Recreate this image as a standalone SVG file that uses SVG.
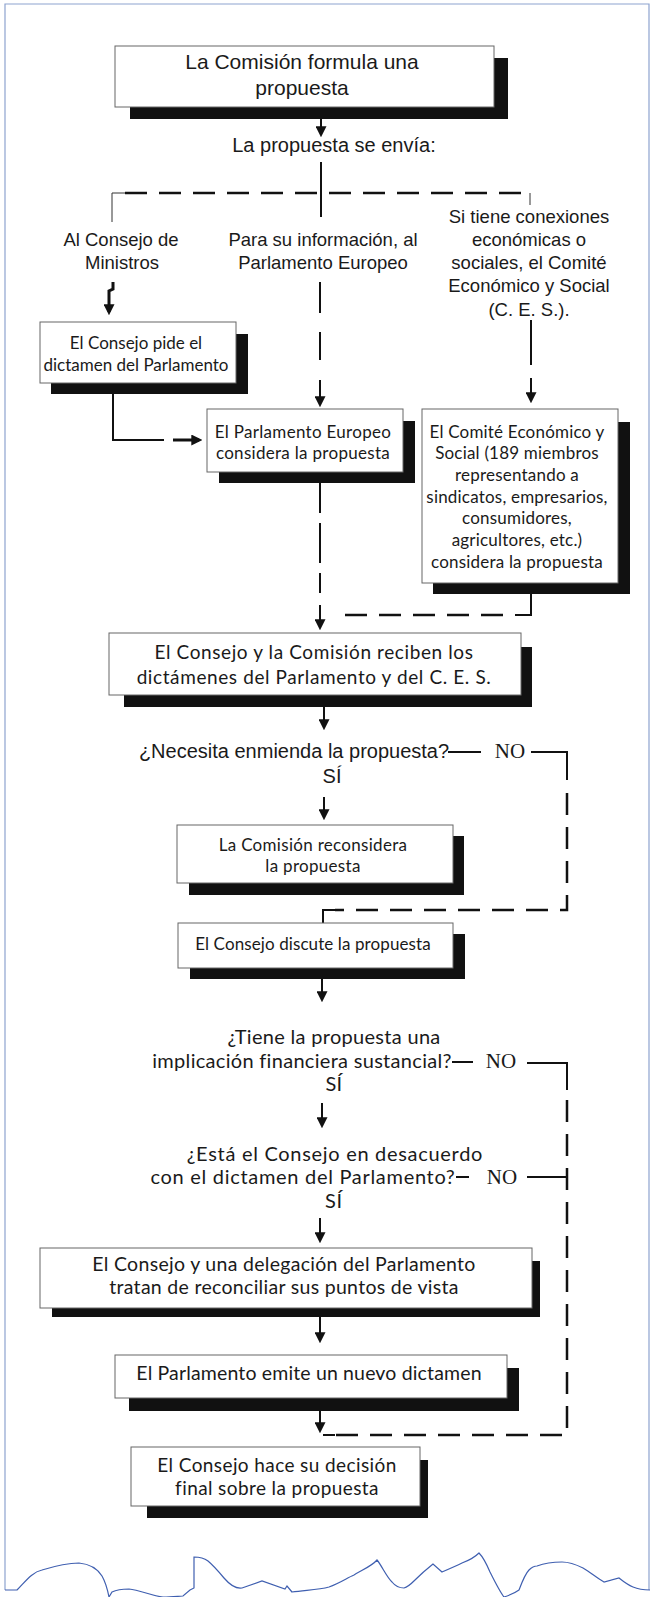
<svg xmlns="http://www.w3.org/2000/svg" width="652" height="1597" viewBox="0 0 652 1597">
<style>
.box{fill:#fff;stroke:#666;stroke-width:1}
.sh{fill:#111}
.t{font-family:Lato,"Noto Sans",sans-serif;fill:#1a1a1a;text-anchor:middle}
.s{font-family:"Liberation Sans",Arial,sans-serif;fill:#1a1a1a;text-anchor:middle}
.no{font-family:"Liberation Serif","Times New Roman",serif;fill:#1a1a1a;text-anchor:middle;font-size:21px}
.ln{stroke:#111;stroke-width:2;fill:none}
.th{stroke:#111;stroke-width:3;fill:none}
.dl{stroke:#111;stroke-width:2.5;fill:none;stroke-dasharray:22 12}
.tk{stroke:#333;stroke-width:1;fill:none}
.frame{stroke:#8ea3cf;stroke-width:1.2;fill:none}
.wave{stroke:#3f5fb0;stroke-width:1.2;fill:none}
</style>
<defs>
<marker id="ah" viewBox="0 0 10 10" refX="7" refY="5" markerWidth="11" markerHeight="11" markerUnits="userSpaceOnUse" orient="auto">
<path d="M0,0 L10,5 L0,10 z" fill="#111"/>
</marker>
</defs>
<rect width="652" height="1597" fill="#fff"/>
<g id="frame">
<path class="frame" d="M5,1590 V4 H649 V1590"/>
<path class="wave" d="M5,1590 L17,1590 C25,1582 32,1572 42,1570 C55,1566 66,1563 79,1563 C90,1564 97,1568 102,1576 C106,1583 108,1592 109,1597 L112,1592 C118,1589 124,1589 129,1589 C140,1590 152,1596 163,1597 C172,1597 180,1596 183,1596 L190,1590 L194,1588 L194,1557 C200,1557 204,1558 208,1561 C214,1566 219,1572 224,1578 C230,1585 236,1589 242,1588 L262,1581 L285,1589 L287,1586 L292,1592 C305,1590 318,1590 329,1587 C340,1583 347,1578 354,1575 C362,1570 372,1566 377,1560 C382,1566 386,1576 392,1582 C396,1587 400,1588 404,1588 C408,1587 412,1583 415,1580 C420,1575 428,1568 433,1564 L442,1572 C449,1569 456,1566 462,1563 C470,1560 475,1557 479,1553 C484,1558 487,1565 490,1572 C495,1582 500,1592 504,1597 C510,1595 515,1593 519,1590 C522,1582 525,1574 529,1570 C532,1567 535,1566 537,1566 C545,1563 553,1562 562,1562 C570,1562 577,1565 583,1568 C590,1572 597,1578 604,1582 L619,1578 C624,1582 628,1585 633,1587 C640,1590 645,1590 650,1590"/>
</g>
<g id="connectors">
<line class="ln" x1="321" y1="119" x2="321" y2="134" marker-end="url(#ah)"/>
<line class="ln" x1="321" y1="162" x2="321" y2="217"/>
<line class="dl" x1="125" y1="193" x2="530" y2="193"/>
<line class="tk" x1="112" y1="193" x2="125" y2="193"/>
<line class="tk" x1="112" y1="193" x2="112" y2="222"/>
<line class="tk" x1="530" y1="193" x2="530" y2="205"/>
<polyline class="th" points="113,282 113,289 109,291 109,312" marker-end="url(#ah)"/>
<line class="ln" x1="320" y1="282" x2="320" y2="313"/>
<line class="ln" x1="320" y1="332" x2="320" y2="360"/>
<line class="ln" x1="320" y1="380" x2="320" y2="404" marker-end="url(#ah)"/>
<line class="ln" x1="531" y1="320" x2="531" y2="365"/>
<line class="ln" x1="531" y1="378" x2="531" y2="400" marker-end="url(#ah)"/>
<polyline class="ln" points="113,394 113,440 164,440"/>
<line class="th" x1="173" y1="440" x2="199" y2="440" marker-end="url(#ah)"/>
<line class="ln" x1="320" y1="483" x2="320" y2="513"/>
<line class="ln" x1="320" y1="523" x2="320" y2="563"/>
<line class="ln" x1="320" y1="573" x2="320" y2="593"/>
<line class="ln" x1="320" y1="605" x2="320" y2="627" marker-end="url(#ah)"/>
<polyline class="ln" points="531,594 531,615 515,615"/>
<line class="dl" x1="503" y1="615" x2="340" y2="615"/>
<line class="ln" x1="324" y1="707" x2="324" y2="727" marker-end="url(#ah)"/>
<line class="ln" x1="448" y1="752" x2="481" y2="752"/>
<polyline class="ln" points="531,752 567,752 567,780"/>
<path class="dl" d="M567,793 V910 H335"/>
<polyline class="ln" points="335,910 323,910 323,923"/>
<line class="ln" x1="324" y1="797" x2="324" y2="817" marker-end="url(#ah)"/>
<line class="ln" x1="322" y1="979" x2="322" y2="999" marker-end="url(#ah)"/>
<line class="ln" x1="452" y1="1062" x2="473" y2="1062"/>
<polyline class="ln" points="527,1063 567,1063 567,1090"/>
<line class="ln" x1="322" y1="1103" x2="322" y2="1125" marker-end="url(#ah)"/>
<line class="ln" x1="456" y1="1177" x2="469" y2="1177"/>
<line class="ln" x1="527" y1="1177" x2="567" y2="1177"/>
<path class="dl" d="M567,1100 V1435 H335"/>
<line class="ln" x1="335" y1="1435" x2="323" y2="1435"/>
<line class="ln" x1="320" y1="1218" x2="320" y2="1240" marker-end="url(#ah)"/>
<line class="ln" x1="320" y1="1317" x2="320" y2="1340" marker-end="url(#ah)"/>
<line class="ln" x1="320" y1="1411" x2="320" y2="1430" marker-end="url(#ah)"/>
</g>
<g id="n1">
<rect class="sh" x="130" y="58" width="378" height="61"/>
<rect class="box" x="115" y="46" width="379" height="61"/>
<text class="s" x="302" y="69" font-size="21">La Comisión formula una</text>
<text class="s" x="302" y="95" font-size="21">propuesta</text>
</g>
<g id="l-envia">
<text class="s" x="334" y="152" font-size="20">La propuesta se envía:</text>
</g>
<g id="l-consejo">
<text class="s" x="121" y="246" font-size="18.5">Al Consejo de</text>
<text class="s" x="122" y="269" font-size="18.5">Ministros</text>
</g>
<g id="l-parlamento">
<text class="s" x="323" y="246" font-size="18.5">Para su información, al</text>
<text class="s" x="323" y="269" font-size="18.5">Parlamento Europeo</text>
</g>
<g id="l-ces">
<text class="s" x="529" y="223" font-size="18.5">Si tiene conexiones</text>
<text class="s" x="529" y="246" font-size="18.5">económicas o</text>
<text class="s" x="529" y="269" font-size="18.5">sociales, el Comité</text>
<text class="s" x="529" y="292" font-size="18.5">Económico y Social</text>
<text class="s" x="529" y="316" font-size="18.5">(C. E. S.).</text>
</g>
<g id="n2">
<rect class="sh" x="51" y="334" width="197" height="60"/>
<rect class="box" x="40" y="322" width="196" height="61"/>
<text class="t" x="136" y="349" font-size="17">El Consejo pide el</text>
<text class="t" x="136" y="371" font-size="17">dictamen del Parlamento</text>
</g>
<g id="n3">
<rect class="sh" x="219" y="421" width="196" height="62"/>
<rect class="box" x="207" y="409" width="196" height="63"/>
<text class="t" x="303" y="438" font-size="17" letter-spacing="0.3">El Parlamento Europeo</text>
<text class="t" x="303" y="459" font-size="17" letter-spacing="0.3">considera la propuesta</text>
</g>
<g id="n4">
<rect class="sh" x="433" y="422" width="197" height="172"/>
<rect class="box" x="422" y="409" width="196" height="174"/>
<g font-size="17" letter-spacing="0.2">
<text class="t" x="517" y="438">El Comité Económico y</text>
<text class="t" x="517" y="459">Social (189 miembros</text>
<text class="t" x="517" y="481">representando a</text>
<text class="t" x="517" y="503">sindicatos, empresarios,</text>
<text class="t" x="517" y="524">consumidores,</text>
<text class="t" x="517" y="546">agricultores, etc.)</text>
<text class="t" x="517" y="568">considera la propuesta</text>
</g>
</g>
<g id="n5">
<rect class="sh" x="124" y="647" width="408" height="60"/>
<rect class="box" x="109" y="633" width="412" height="62"/>
<text class="t" x="314" y="659" font-size="19" letter-spacing="0.6">El Consejo y la Comisión reciben los</text>
<text class="t" x="314" y="684" font-size="19" letter-spacing="0.6">dictámenes del Parlamento y del C. E. S.</text>
</g>
<g id="q1">
<text class="s" x="294" y="758" font-size="20">¿Necesita enmienda la propuesta?</text>
<text class="no" x="510" y="758">NO</text>
<text class="s" x="332" y="783" font-size="20">SÍ</text>
</g>
<g id="n6">
<rect class="sh" x="189" y="836" width="275" height="59"/>
<rect class="box" x="177" y="825" width="276" height="58"/>
<text class="t" x="313" y="851" font-size="17" letter-spacing="0.3">La Comisión reconsidera</text>
<text class="t" x="313" y="872" font-size="17" letter-spacing="0.3">la propuesta</text>
</g>
<g id="n7">
<rect class="sh" x="190" y="934" width="275" height="45"/>
<rect class="box" x="178" y="923" width="275" height="45"/>
<text class="t" x="313" y="950" font-size="17" letter-spacing="0.1">El Consejo discute la propuesta</text>
</g>
<g id="q2">
<g font-size="20" letter-spacing="0.3">
<text class="t" x="334" y="1044">¿Tiene la propuesta una</text>
<text class="t" x="302" y="1068">implicación financiera sustancial?</text>
<text class="t" x="334" y="1091">SÍ</text>
</g>
<text class="no" x="501" y="1068">NO</text>
</g>
<g id="q3">
<g font-size="20" letter-spacing="0.7">
<text class="t" x="335" y="1161">¿Está el Consejo en desacuerdo</text>
<text class="t" x="303" y="1184">con el dictamen del Parlamento?</text>
<text class="t" x="334" y="1208">SÍ</text>
</g>
<text class="no" x="502" y="1184">NO</text>
</g>
<g id="n8">
<rect class="sh" x="52" y="1261" width="488" height="56"/>
<rect class="box" x="40" y="1248" width="492" height="60"/>
<text class="t" x="284" y="1271" font-size="19.5" letter-spacing="0.3">El Consejo y una delegación del Parlamento</text>
<text class="t" x="284" y="1294" font-size="19.5" letter-spacing="0.3">tratan de reconciliar sus puntos de vista</text>
</g>
<g id="n9">
<rect class="sh" x="129" y="1368" width="390" height="43"/>
<rect class="box" x="115" y="1355" width="392" height="43"/>
<text class="t" x="309" y="1380" font-size="19.5" letter-spacing="0.15">El Parlamento emite un nuevo dictamen</text>
</g>
<g id="n10">
<rect class="sh" x="147" y="1460" width="281" height="58"/>
<rect class="box" x="131" y="1447" width="289" height="59"/>
<text class="t" x="277" y="1472" font-size="19" letter-spacing="0.4">El Consejo hace su decisión</text>
<text class="t" x="277" y="1495" font-size="19" letter-spacing="0.4">final sobre la propuesta</text>
</g>
</svg>
